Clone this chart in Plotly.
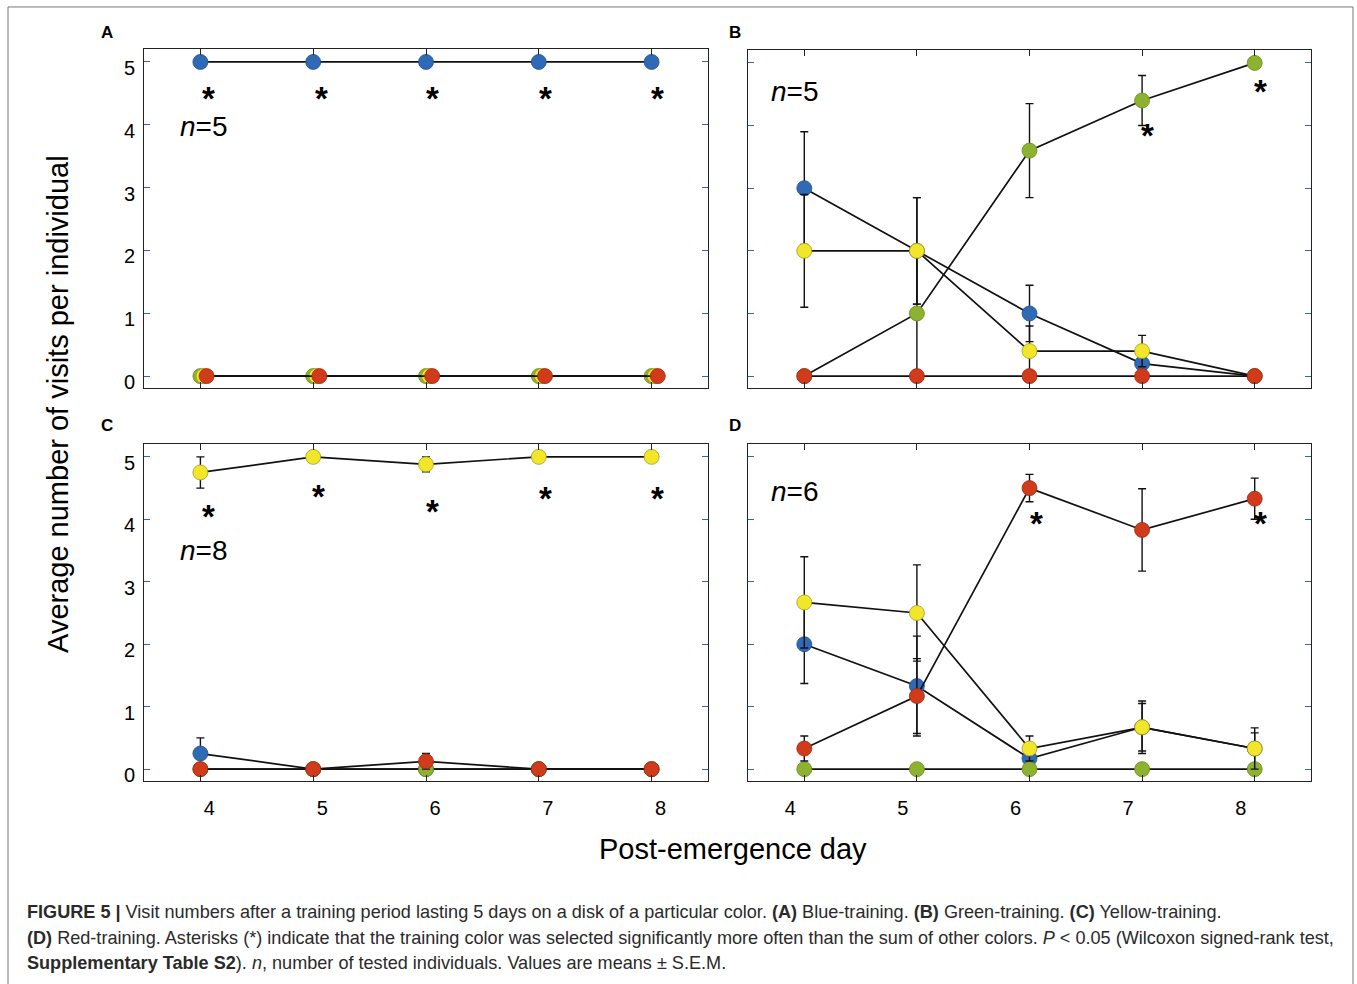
import plotly.graph_objects as go

W, H = 1357, 984

# ---------------- data ----------------
DAYS = [4, 5, 6, 7, 8]
Y_TICKS = [0, 1, 2, 3, 4, 5]
COLOR_NAMES = ["blue", "green", "yellow", "red"]

# Panel A: blue training (n=5)
A_blue = [5, 5, 5, 5, 5]
A_blue_err = [0, 0, 0, 0, 0]
A_green = [0, 0, 0, 0, 0]
A_green_err = [0, 0, 0, 0, 0]
A_yellow = [0, 0, 0, 0, 0]
A_yellow_err = [0, 0, 0, 0, 0]
A_red = [0, 0, 0, 0, 0]
A_red_err = [0, 0, 0, 0, 0]
A_star_x = [4.07, 5.07, 6.06, 7.06, 8.05]
A_star_y = [4.49, 4.49, 4.49, 4.49, 4.49]

# Panel B: green training (n=5)
B_blue = [3, 2, 1, 0.2, 0]
B_blue_err = [0.9, 0.85, 0.45, 0.2, 0]
B_green = [0, 1, 3.6, 4.4, 5]
B_green_err = [0, 1, 0.75, 0.4, 0]
B_yellow = [2, 2, 0.4, 0.4, 0]
B_yellow_err = [0.9, 0.85, 0.4, 0.25, 0]
B_red = [0, 0, 0, 0, 0]
B_red_err = [0, 0, 0, 0, 0]
B_star_x = [7.05, 8.05]
B_star_y = [3.92, 4.62]

# Panel C: yellow training (n=8)
C_blue = [0.25, 0, 0, 0, 0]
C_blue_err = [0.25, 0, 0, 0, 0]
C_green = [0, 0, 0, 0, 0]
C_green_err = [0, 0, 0, 0, 0]
C_yellow = [4.75, 5, 4.88, 5, 5]
C_yellow_err = [0.25, 0, 0.12, 0, 0]
C_red = [0, 0, 0.125, 0, 0]
C_red_err = [0, 0, 0.125, 0, 0]
C_star_x = [4.07, 5.05, 6.06, 7.06, 8.05]
C_star_y = [4.13, 4.44, 4.2, 4.41, 4.41]

# Panel D: red training (n=6)
D_blue = [2, 1.33, 0.17, 0.67, 0.33]
D_blue_err = [0.63, 0.8, 0.17, 0.38, 0.25]
D_green = [0, 0, 0, 0, 0]
D_green_err = [0, 0, 0, 0, 0]
D_yellow = [2.67, 2.5, 0.33, 0.67, 0.33]
D_yellow_err = [0.73, 0.77, 0.2, 0.42, 0.33]
D_red = [0.33, 1.17, 4.5, 3.83, 4.33]
D_red_err = [0.2, 0.6, 0.22, 0.66, 0.33]
D_star_x = [6.06, 8.05]
D_star_y = [4.02, 4.02]

PANEL_LABELS = ["A", "B", "C", "D"]
N_LABELS = ["5", "5", "8", "6"]
N_POS_X = [3.8, 3.69, 3.8, 3.69]
N_POS_Y = [3.98, 4.54, 3.5, 4.44]

# ---------------- style ----------------
FILL = {"blue": "#2e6ab5", "green": "#8cb22f", "yellow": "#f2e62b", "red": "#d23a1c"}
EDGE = {"blue": "#234f8a", "green": "#6a8a22", "yellow": "#a89c1a", "red": "#9b2b12"}
# horizontal display offsets used only to show overlapping zero markers in panel A
A_OFFSET = {"blue": 0.0, "green": 0.0, "yellow": 0.028, "red": 0.055}
FONT = "Liberation Sans, Arial, Helvetica, sans-serif"

panels = [
    dict(series={"blue": (A_blue, A_blue_err), "green": (A_green, A_green_err),
                 "yellow": (A_yellow, A_yellow_err), "red": (A_red, A_red_err)},
         stars=(A_star_x, A_star_y), offset=A_OFFSET),
    dict(series={"blue": (B_blue, B_blue_err), "green": (B_green, B_green_err),
                 "yellow": (B_yellow, B_yellow_err), "red": (B_red, B_red_err)},
         stars=(B_star_x, B_star_y), offset=None),
    dict(series={"blue": (C_blue, C_blue_err), "green": (C_green, C_green_err),
                 "yellow": (C_yellow, C_yellow_err), "red": (C_red, C_red_err)},
         stars=(C_star_x, C_star_y), offset=None),
    dict(series={"blue": (D_blue, D_blue_err), "green": (D_green, D_green_err),
                 "yellow": (D_yellow, D_yellow_err), "red": (D_red, D_red_err)},
         stars=(D_star_x, D_star_y), offset=None),
]

# pixel boxes (left, right, top, bottom)
BOXES = [(144, 708, 49, 390), (748, 1311, 50, 390), (144, 708, 446, 785), (748, 1311, 446, 785)]
XLABEL_SHIFT = [0, 0, 9, -14]


def pxx(x):
    return x / W


def pxy(y):
    return 1 - y / H


fig = go.Figure()
layout = {}
annotations = []

for i, p in enumerate(panels):
    k = "" if i == 0 else str(i + 1)
    xa, ya = "x" + k, "y" + k
    for c in COLOR_NAMES:
        vals, errs = p["series"][c]
        off = p["offset"][c] if p["offset"] else 0.0
        fig.add_trace(go.Scatter(
            x=[d + off for d in DAYS], y=vals, xaxis=xa, yaxis=ya,
            mode="lines+markers",
            line=dict(color="#111111", width=1.7),
            marker=dict(size=15, color=FILL[c], line=dict(color=EDGE[c], width=0.8)),
            error_y=dict(type="data", array=errs, visible=True, color="#111111",
                         thickness=1.4, width=4),
            showlegend=False, hoverinfo="skip",
        ))
    sx, sy = p["stars"]
    for x, y in zip(sx, sy):
        annotations.append(dict(x=x, y=y, xref=xa, yref=ya, text="<b>*</b>",
                                showarrow=False, xanchor="center", yanchor="middle",
                                yshift=-5, font=dict(size=33, color="#000000", family=FONT)))
    annotations.append(dict(x=N_POS_X[i], y=N_POS_Y[i], xref=xa, yref=ya,
                            text="<i>n</i>=" + N_LABELS[i], showarrow=False,
                            xanchor="left", yanchor="middle",
                            font=dict(size=28, color="#000000", family=FONT)))

    l, r, t, b = BOXES[i]
    layout["xaxis" + k] = dict(
        domain=[pxx(l), pxx(r)], range=[3.5, 8.5], anchor=ya,
        tickvals=DAYS, ticktext=[str(d) for d in DAYS],
        showticklabels=(i >= 2), ticks="inside", ticklen=6, tickwidth=1,
        tickcolor="#222222", mirror="ticks", showline=True, linecolor="#222222",
        linewidth=1, showgrid=False, zeroline=False,
        tickfont=dict(size=20, color="#000000", family=FONT),
        ticklabelstandoff=9, ticklabelshift=XLABEL_SHIFT[i],
    )
    layout["yaxis" + k] = dict(
        domain=[pxy(b), pxy(t)], range=[-0.19, 5.21], anchor=xa,
        tickvals=Y_TICKS, ticktext=[str(v) for v in Y_TICKS],
        showticklabels=(i % 2 == 0), ticks="inside", ticklen=6, tickwidth=1,
        tickcolor="#3b5cc4", mirror="ticks", showline=True, linecolor="#222222",
        linewidth=1, showgrid=False, zeroline=False,
        tickfont=dict(size=20, color="#000000", family=FONT),
        ticklabelstandoff=4, ticklabelshift=6,
    )

# panel letters
for lab, (x, y) in zip(PANEL_LABELS, [(107, 33), (735, 33), (107, 428), (735, 428)]):
    annotations.append(dict(x=pxx(x), y=pxy(y), xref="paper", yref="paper", text="<b>" + lab + "</b>",
                            showarrow=False, xanchor="center", yanchor="middle",
                            font=dict(size=17, color="#000000", family=FONT)))

# axis titles
annotations.append(dict(x=pxx(58), y=pxy(406), xref="paper", yref="paper",
                        text="Average number of visits per individual", textangle=-90,
                        showarrow=False, xanchor="center", yanchor="middle",
                        font=dict(size=29, color="#000000", family=FONT)))
annotations.append(dict(x=pxx(733), y=pxy(853), xref="paper", yref="paper",
                        text="Post-emergence day", showarrow=False,
                        xanchor="center", yanchor="middle",
                        font=dict(size=29, color="#000000", family=FONT)))

# caption
CAPTION = [
    "<b>FIGURE 5 |</b> Visit numbers after a training period lasting 5 days on a disk of a particular color. "
    "<b>(A)</b> Blue-training. <b>(B)</b> Green-training. <b>(C)</b> Yellow-training.",
    "<b>(D)</b> Red-training. Asterisks (*) indicate that the training color was selected significantly more "
    "often than the sum of other colors. <i>P</i> &lt; 0.05 (Wilcoxon signed-rank test,",
    "<b>Supplementary Table S2</b>). <i>n</i>, number of tested individuals. Values are means ± S.E.M.",
]
for line, y in zip(CAPTION, [917, 943, 968]):
    annotations.append(dict(x=pxx(25), y=pxy(y), xref="paper", yref="paper", text=line,
                            showarrow=False, xanchor="left", yanchor="middle", align="left",
                            font=dict(size=18.1, color="#2a2a2a", family=FONT)))

fig.update_layout(
    width=W, height=H, margin=dict(l=0, r=0, t=0, b=0),
    paper_bgcolor="white", plot_bgcolor="white",
    annotations=annotations,
    shapes=[dict(type="rect", xref="paper", yref="paper", x0=pxx(8), x1=pxx(1353),
                 y0=-0.05, y1=pxy(7), line=dict(color="#777777", width=1), fillcolor="rgba(0,0,0,0)")],
    **layout,
)

fig.write_html("out.html")
